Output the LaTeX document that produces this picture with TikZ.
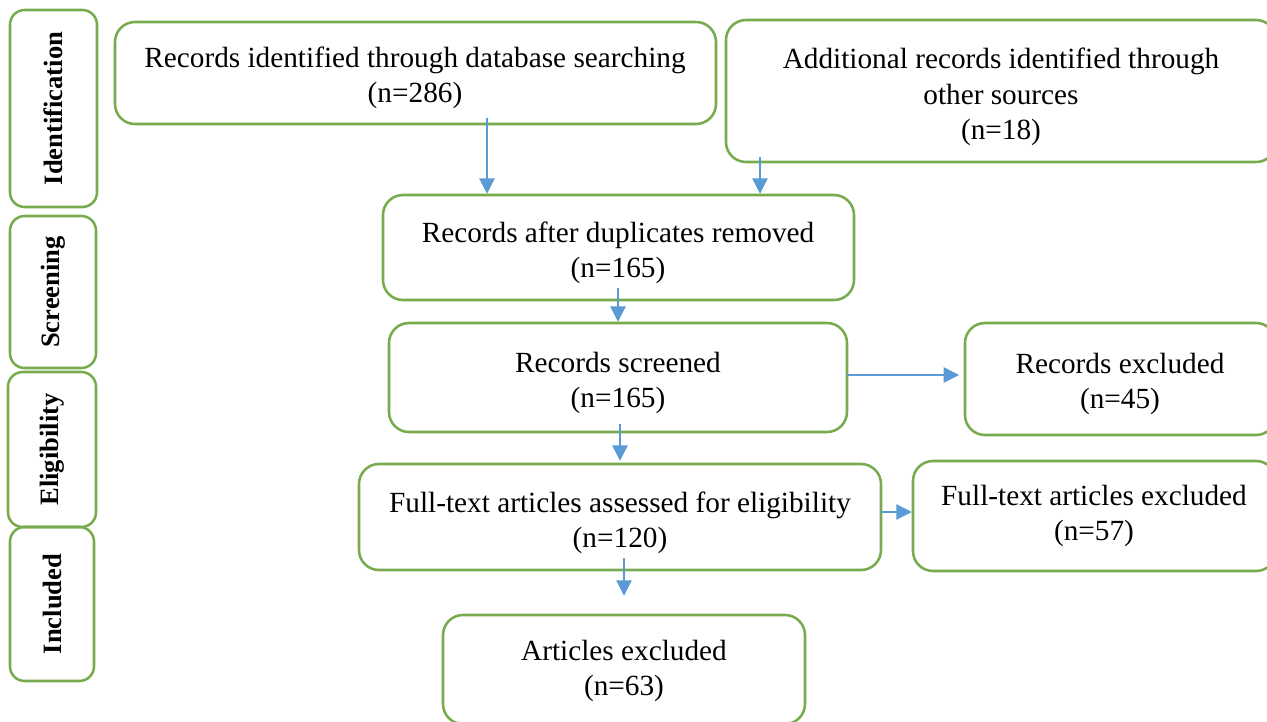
\documentclass[tikz,border=0pt]{standalone}
\usepackage{fontspec}
\setmainfont{Liberation Serif}
\usetikzlibrary{arrows.meta,fit}
\definecolor{boxgreen}{HTML}{77AB4D}
\definecolor{arrowblue}{HTML}{5B9BD5}
\begin{document}
\begin{tikzpicture}[x=0.75pt,y=-0.75pt,
  box/.style={draw=boxgreen, line width=1.9pt, rounded corners=15pt, inner sep=0pt},
  txt/.style={align=center, inner sep=0pt, font=\fontsize{21.95}{26.5}\selectfont},
  labbox/.style={draw=boxgreen, line width=1.9pt, rounded corners=11pt, inner sep=0pt},
  labtext/.style={rotate=90, font=\bfseries\fontsize{19.9}{23}\selectfont, inner sep=0pt},
  arr/.style={draw=arrowblue, line width=0.9pt, -{Triangle[width=11.5pt,length=11.5pt]}}]
\useasboundingbox (0,0) rectangle (1267,721);
\clip (0,0) rectangle (1267,721);
\fill[white] (0,0) rectangle (1267,721);
% left stage labels
\node[labbox, fit={(10,10) (97,207)}] (L1) {};
\node[labtext] (L1t) at (L1.center) {Identification};
\node[labbox, fit={(10,216) (96,368)}] (L2) {};
\node[labtext] (L2t) at (L2.center) {Screening};
\node[labbox, fit={(8,372) (96,527)}] (L3) {};
\node[labtext] (L3t) at (L3.center) {Eligibility};
\node[labbox, fit={(10,527) (94,681)}] (L4) {};
\node[labtext] (L4t) at (L4.center) {Included};
% main boxes
\node[box, fit={(115,22) (716,124)}] (A) {};
\node[txt] (At) at (415,78) {Records identified through database searching\\(n=286)};
\node[box, fit={(726,20) (1276,162)}] (B) {};
\node[txt] (Bt) at (1001,97) {Additional records identified through\\other sources\\(n=18)};
\node[box, fit={(383,195) (854,300)}] (C) {};
\node[txt] (Ct) at (618,253) {Records after duplicates removed\\(n=165)};
\node[box, fit={(389,323) (847,432)}] (D) {};
\node[txt] (Dt) at (618,383) {Records screened\\(n=165)};
\node[box, fit={(965,323) (1276,435)}] (E) {};
\node[txt] (Et) at (1120,384) {Records excluded\\(n=45)};
\node[box, fit={(359,464) (881,570)}] (F) {};
\node[txt] (Ft) at (620,523) {Full-text articles assessed for eligibility\\(n=120)};
\node[box, fit={(913,461) (1276,571)}] (G) {};
\node[txt] (Gt) at (1094,516) {Full-text articles excluded\\(n=57)};
\node[box, fit={(443,615) (805,724)}] (H) {};
\node[txt] (Ht) at (624,671) {Articles excluded\\(n=63)};
% connectors
\coordinate (a1) at (487,118);
\coordinate (b1) at (760,157);
\coordinate (c1) at (618,288);
\coordinate (d1) at (847,375);
\coordinate (d2) at (620,424);
\coordinate (f1) at (881,512);
\coordinate (f2) at (624,558);
\draw[arr] (a1) -- (a1 |- C.north);
\draw[arr] (b1) -- (b1 |- C.north);
\draw[arr] (c1) -- (c1 |- D.north);
\draw[arr, shorten >=3.5pt] (d1) -- (d1 -| E.west);
\draw[arr] (d2) -- ([yshift=1.5pt]d2 |- F.north);
\draw[arr] (f1) -- (f1 -| G.west);
\draw[arr] (f2) -- ([yshift=13.5pt]f2 |- H.north);
\end{tikzpicture}
\end{document}
